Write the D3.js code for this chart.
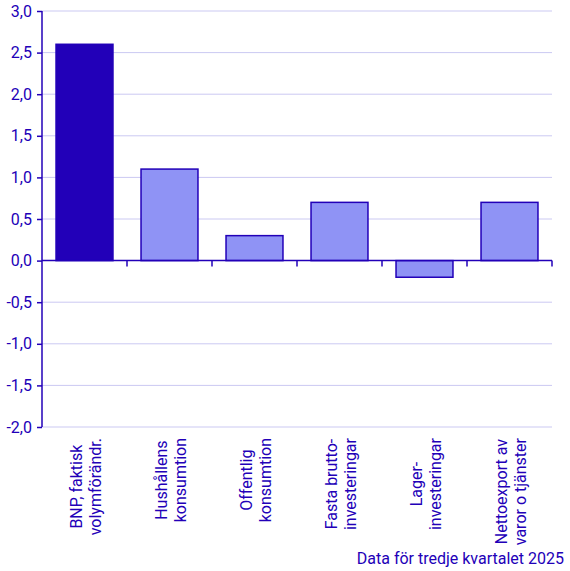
<!DOCTYPE html>
<html>
<head>
<meta charset="utf-8">
<script src="https://cdn.jsdelivr.net/npm/d3@7"></script>
<style>
  body { margin: 0; background: #fff; }
  text { font-family: Roboto, "Noto Sans", sans-serif; fill: #2200b8; }
</style>
</head>
<body>
<script>
// categories, each label split in lines
const categories = [
  ["BNP, faktisk", "volymförändr."],
  ["Hushållens", "konsumtion"],
  ["Offentlig", "konsumtion"],
  ["Fasta brutto-", "investeringar"],
  ["Lager-", "investeringar"],
  ["Nettoexport av", "varor o tjänster"]
];
const values = [2.6, 1.1, 0.3, 0.7, -0.2, 0.7];
const yTicks = [3.0, 2.5, 2.0, 1.5, 1.0, 0.5, 0.0, -0.5, -1.0, -1.5, -2.0];
const footnote = "Data för tredje kvartalet 2025";

const W = 570, H = 571;
const mLeft = 42, mRight = 552, mTop = 11, mBottom = 427;
const ink = "#2200b8";
const fs = 16;

const svg = d3.select("body").append("svg").attr("width", W).attr("height", H);

const x = d3.scaleBand().domain(d3.range(categories.length)).range([mLeft, mRight]).paddingInner(0.33).paddingOuter(0.165);
const xb = d3.scaleBand().domain(d3.range(categories.length)).range([mLeft, mRight]);
const y = d3.scaleLinear().domain([-2, 3]).range([mBottom, mTop]);

// grid lines
svg.append("g").selectAll("line").data(yTicks.filter(d => d !== 0)).enter().append("line")
  .attr("x1", mLeft).attr("x2", mRight)
  .attr("y1", d => y(d)).attr("y2", d => y(d))
  .attr("stroke", "#cbc9f2").attr("stroke-width", 1);

// bars
svg.append("g").selectAll("rect").data(values).enter().append("rect")
  .attr("x", (d, i) => x(i))
  .attr("width", x.bandwidth())
  .attr("y", d => y(Math.max(0, d)))
  .attr("height", d => Math.abs(y(d) - y(0)))
  .attr("fill", (d, i) => i === 0 ? ink : "#8f93f5")
  .attr("stroke", ink).attr("stroke-width", 1.5);

// y axis
const yAxis = svg.append("g").attr("transform", `translate(${mLeft},0)`)
  .call(d3.axisLeft(y).tickValues(yTicks).tickSize(5).tickPadding(5)
    .tickFormat(d => d3.format(".1f")(d).replace(".", ",").replace("−", "-")));
yAxis.selectAll("path, line").attr("stroke", ink).attr("stroke-width", 1.5);
yAxis.select(".domain").attr("d", `M0,${mTop}V${mBottom}`);
yAxis.selectAll("text").attr("font-size", fs).attr("font-family", "Roboto").attr("fill", ink);

// zero line with category ticks
const xAxis = svg.append("g").attr("transform", `translate(0,${y(0)})`)
  .call(d3.axisBottom(xb).tickSize(0).tickFormat(""));
xAxis.select(".domain").attr("d", `M${mLeft},0H${mRight}`).attr("stroke", ink).attr("stroke-width", 1.5);
xAxis.selectAll(".tick").remove();
xAxis.selectAll("line.sep").data(d3.range(1, categories.length + 1)).enter().append("line")
  .attr("class", "sep")
  .attr("x1", i => mLeft + i * xb.bandwidth()).attr("x2", i => mLeft + i * xb.bandwidth())
  .attr("y1", 0).attr("y2", 6)
  .attr("stroke", ink).attr("stroke-width", 1.5);

// category labels, rotated, lines centered on each other
const labelTop = 438;
const lab = svg.append("g").selectAll("g").data(categories).enter().append("g")
  .attr("transform", (d, i) => `translate(${xb(i) + xb.bandwidth() / 2},${labelTop}) rotate(-90)`);
lab.each(function(lines) {
  const g = d3.select(this);
  const t = g.selectAll("text").data(lines).enter().append("text")
    .attr("font-size", fs)
    .attr("text-anchor", "middle")
    .attr("y", (d, j) => -3 + j * 19)
    .text(d => d);
  let w = 0;
  t.each(function() { w = Math.max(w, this.getComputedTextLength()); });
  t.attr("x", -w / 2);
});

svg.append("text").attr("x", 564).attr("y", 564).attr("text-anchor", "end")
  .attr("font-size", fs).text(footnote);
</script>
</body>
</html>
